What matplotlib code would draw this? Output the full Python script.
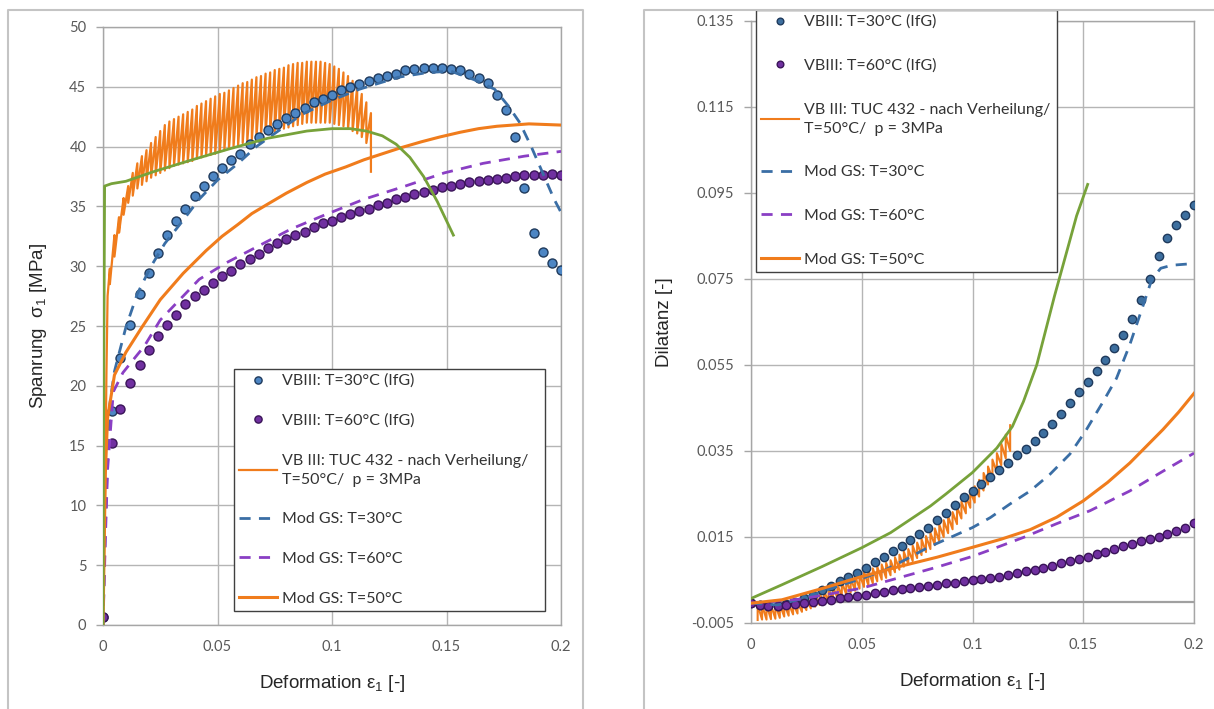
import matplotlib
matplotlib.use("Agg")
import matplotlib.pyplot as plt
from matplotlib.lines import Line2D

plt.rcParams['axes.unicode_minus'] = False
plt.rcParams['mathtext.fontset'] = 'custom'
plt.rcParams['mathtext.rm'] = 'Liberation Sans'
plt.rcParams['mathtext.default'] = 'rm'

# ---- measured points (IfG), shared strain positions ----
ifg_eps = [0.0, 0.004, 0.0075, 0.012, 0.016, 0.020, 0.024, 0.028,
           0.032, 0.036, 0.040, 0.044, 0.048, 0.052, 0.056, 0.060,
           0.064, 0.068, 0.072, 0.076, 0.080, 0.084, 0.088, 0.092, 0.096, 0.100,
           0.104, 0.108, 0.112, 0.116, 0.120, 0.124, 0.128, 0.132, 0.136, 0.140,
           0.144, 0.148, 0.152, 0.156, 0.160, 0.164, 0.168, 0.172, 0.176, 0.180,
           0.184, 0.188, 0.192, 0.196, 0.200]
ifg30_sig = [0.7, 17.9, 22.3, 25.1, 27.7, 29.4, 31.1, 32.6,
             33.8, 34.8, 35.9, 36.7, 37.5, 38.2, 38.9, 39.4,
             40.2, 40.8, 41.4, 41.9, 42.4, 42.8, 43.2, 43.7, 44.0, 44.3,
             44.7, 45.0, 45.2, 45.5, 45.7, 45.9, 46.1, 46.4, 46.5, 46.6,
             46.6, 46.6, 46.5, 46.4, 46.1, 45.7, 45.3, 44.3, 43.1, 40.8,
             36.5, 32.8, 31.2, 30.3, 29.7]
ifg60_sig = [0.7, 15.2, 18.1, 20.2, 21.7, 23.0, 24.2, 25.1,
             25.9, 26.8, 27.5, 28.0, 28.6, 29.2, 29.6, 30.2,
             30.6, 31.0, 31.5, 31.9, 32.3, 32.6, 32.9, 33.3, 33.6, 33.8,
             34.1, 34.4, 34.6, 34.8, 35.1, 35.3, 35.6, 35.8, 36.0, 36.2,
             36.4, 36.6, 36.7, 36.9, 37.0, 37.1, 37.2, 37.3, 37.4, 37.5,
             37.6, 37.6, 37.6, 37.7, 37.6]
ifg30_dil = [-0.0004, -0.0008, -0.0011, -0.0010, -0.0006, 0.0000, 0.0008, 0.0016,
             0.0027, 0.0037, 0.0047, 0.0057, 0.0066, 0.0079, 0.0091, 0.0104,
             0.0118, 0.0130, 0.0143, 0.0158, 0.0172, 0.0189, 0.0206, 0.0224, 0.0242, 0.0257,
             0.0273, 0.0290, 0.0305, 0.0322, 0.0340, 0.0355, 0.0373, 0.0392, 0.0413, 0.0436,
             0.0462, 0.0487, 0.0510, 0.0535, 0.0562, 0.0590, 0.0619, 0.0658, 0.0702, 0.0751,
             0.0803, 0.0846, 0.0875, 0.0898, 0.0921]
ifg60_dil = [-0.0004, -0.0009, -0.0011, -0.0011, -0.0009, -0.0006, -0.0004, -0.0001,
             0.0002, 0.0004, 0.0007, 0.0010, 0.0013, 0.0016, 0.0019, 0.0023,
             0.0026, 0.0029, 0.0031, 0.0033, 0.0036, 0.0039, 0.0042, 0.0044, 0.0047, 0.0049,
             0.0053, 0.0055, 0.0058, 0.0061, 0.0066, 0.0070, 0.0074, 0.0078, 0.0083, 0.0089,
             0.0094, 0.0099, 0.0104, 0.0110, 0.0115, 0.0122, 0.0128, 0.0134, 0.0140, 0.0145,
             0.0151, 0.0156, 0.0163, 0.0172, 0.0182]

# ---- TUC 432 cyclic test: strain of each load cycle, upper / lower turning values ----
tuc_start_eps = [0.0, 0.001, 0.0015, 0.002]
tuc_start_sig = [0.0, 12.0, 21.0, 27.5]
tooth_eps = [0.003, 0.005, 0.007, 0.009, 0.011, 0.013, 0.015, 0.017, 0.019, 0.021,
             0.023, 0.025, 0.027, 0.029, 0.031, 0.033, 0.035, 0.037, 0.039, 0.041,
             0.043, 0.045, 0.047, 0.049, 0.051, 0.053, 0.055, 0.057, 0.059, 0.061,
             0.063, 0.065, 0.067, 0.069, 0.071, 0.073, 0.075, 0.077, 0.079, 0.081,
             0.083, 0.085, 0.087, 0.089, 0.091, 0.093, 0.095, 0.097, 0.099, 0.101,
             0.103, 0.105, 0.107, 0.109, 0.111, 0.113, 0.115, 0.117]
tuc_sig_hi = [29.8, 32.6, 34.1, 35.7, 36.7, 37.8, 38.6, 39.2, 39.7, 40.3,
              40.8, 41.3, 41.8, 42.1, 42.3, 42.5, 42.7, 42.9, 43.1, 43.4,
              43.6, 43.8, 44.0, 44.2, 44.4, 44.5, 44.7, 44.9, 45.1, 45.3,
              45.4, 45.6, 45.8, 45.9, 46.1, 46.2, 46.4, 46.5, 46.6, 46.8,
              46.9, 47.0, 47.0, 47.1, 47.1, 47.1, 47.1, 47.0, 46.9, 46.7,
              46.5, 46.2, 45.9, 45.5, 45.0, 44.4, 43.7, 42.8]
tuc_sig_lo = [28.5, 30.8, 32.8, 34.3, 35.3, 35.9, 36.5, 36.8, 37.1, 37.4,
              37.6, 37.8, 38.0, 38.2, 38.4, 38.5, 38.6, 38.7, 38.8, 39.0,
              39.1, 39.2, 39.3, 39.4, 39.6, 39.7, 39.8, 40.0, 40.1, 40.3,
              40.4, 40.6, 40.8, 40.9, 41.1, 41.2, 41.3, 41.4, 41.5, 41.6,
              41.7, 41.8, 41.9, 42.0, 42.0, 42.0, 42.0, 42.0, 42.0, 41.9,
              41.8, 41.7, 41.5, 41.3, 41.1, 40.8, 40.3, 37.9]
tuc_dil_lo = [-0.0043, -0.0042, -0.0042, -0.0041, -0.0040, -0.0038, -0.0035, -0.0033, -0.0030, -0.0028,
              -0.0024, -0.0020, -0.0016, -0.0012, -0.0008, -0.0004, 0.0000, 0.0004, 0.0008, 0.0012,
              0.0016, 0.0021, 0.0025, 0.0030, 0.0034, 0.0038, 0.0042, 0.0047, 0.0051, 0.0055,
              0.0061, 0.0068, 0.0074, 0.0081, 0.0087, 0.0094, 0.0101, 0.0108, 0.0115, 0.0122,
              0.0131, 0.0140, 0.0150, 0.0159, 0.0168, 0.0180, 0.0193, 0.0205, 0.0218, 0.0230,
              0.0244, 0.0258, 0.0272, 0.0286, 0.0300, 0.0317, 0.0333, 0.0350]
tuc_dil_hi = [-0.0008, -0.0008, -0.0008, -0.0008, -0.0008, -0.0007, -0.0006, -0.0005, -0.0004, -0.0002,
              0.0002, 0.0006, 0.0010, 0.0014, 0.0018, 0.0024, 0.0029, 0.0035, 0.0040, 0.0046,
              0.0050, 0.0055, 0.0059, 0.0064, 0.0068, 0.0072, 0.0077, 0.0081, 0.0086, 0.0090,
              0.0096, 0.0103, 0.0109, 0.0116, 0.0122, 0.0130, 0.0137, 0.0145, 0.0152, 0.0160,
              0.0170, 0.0179, 0.0189, 0.0198, 0.0208, 0.0220, 0.0232, 0.0244, 0.0256, 0.0268,
              0.0283, 0.0299, 0.0314, 0.0330, 0.0345, 0.0367, 0.0388, 0.0410]

# ---- model curves (Mod GS), stress ----
mod30_eps = [0, 0.001, 0.002, 0.003, 0.005, 0.007, 0.010, 0.015, 0.021, 0.027, 0.034, 0.042,
             0.050, 0.059, 0.067, 0.075, 0.087, 0.099, 0.112, 0.129, 0.142, 0.152, 0.162,
             0.171, 0.177, 0.182, 0.187, 0.192, 0.197, 0.200]
mod30_sig = [0, 8.0, 14.0, 18.5, 21.2, 22.7, 24.9, 27.7, 30.0, 31.9, 33.6, 35.6,
             37.2, 38.6, 40.0, 41.1, 42.7, 43.8, 44.8, 45.8, 46.2, 46.3, 45.6,
             44.8, 43.4, 42.0, 40.0, 37.8, 35.6, 34.5]
mod60_eps = [0, 0.001, 0.002, 0.0045, 0.0087, 0.015, 0.018, 0.025, 0.034, 0.042, 0.054,
             0.069, 0.082, 0.097, 0.114, 0.132, 0.149, 0.166, 0.184, 0.200]
mod60_sig = [0, 7.0, 13.0, 19.5, 21.1, 22.6, 23.3, 25.5, 27.3, 28.9, 30.3,
             31.8, 33.1, 34.3, 35.6, 36.7, 37.8, 38.6, 39.2, 39.6]
mod50_eps = [0, 0.001, 0.002, 0.005, 0.010, 0.017, 0.025, 0.035, 0.045, 0.052, 0.059, 0.065,
             0.072, 0.080, 0.089, 0.097, 0.106, 0.114, 0.122, 0.130, 0.139, 0.147, 0.156,
             0.164, 0.172, 0.186, 0.200]
mod50_sig = [0, 12.6, 17.3, 20.9, 22.8, 24.9, 27.2, 29.4, 31.3, 32.5, 33.5, 34.4,
             35.2, 36.1, 37.0, 37.7, 38.3, 38.9, 39.4, 39.9, 40.4, 40.8, 41.2,
             41.5, 41.7, 41.9, 41.8]
green_eps = [0, 0.0003, 0.0007, 0.0037, 0.010, 0.022, 0.039, 0.055, 0.072, 0.089,
             0.100, 0.108, 0.115, 0.122, 0.128, 0.134, 0.140, 0.146, 0.153]
green_sig = [0, 20.0, 36.7, 36.9, 37.1, 37.9, 38.9, 39.8, 40.7, 41.3,
             41.5, 41.5, 41.3, 40.9, 40.2, 39.1, 37.5, 35.4, 32.6]

# ---- model curves, dilatancy ----
mod30d_eps = [0, 0.012, 0.024, 0.036, 0.048, 0.060, 0.070, 0.080, 0.090, 0.100, 0.108, 0.117,
              0.126, 0.135, 0.144, 0.151, 0.159, 0.165, 0.171, 0.177, 0.181, 0.185, 0.190, 0.200]
mod30_dil = [-0.0004, -0.0008, 0.0008, 0.0030, 0.0050, 0.0072, 0.0098, 0.0126, 0.0149, 0.0172,
             0.0195, 0.0227, 0.0257, 0.0296, 0.0343, 0.0396, 0.0465, 0.0519, 0.0597, 0.0688,
             0.0750, 0.0775, 0.0782, 0.0786]
mod60d_eps = [0, 0.023, 0.050, 0.066, 0.084, 0.100, 0.108, 0.123, 0.138, 0.153, 0.171, 0.186, 0.200]
mod60_dil = [-0.0004, 0.0006, 0.0031, 0.0054, 0.0080, 0.0105, 0.0120, 0.0149, 0.0181, 0.0211,
             0.0257, 0.0303, 0.0345]
mod50d_eps = [0, 0.014, 0.032, 0.050, 0.066, 0.084, 0.100, 0.113, 0.126, 0.138, 0.150, 0.161,
              0.171, 0.186, 0.193, 0.200]
mod50_dil = [-0.0004, 0.0004, 0.0030, 0.0058, 0.0080, 0.0103, 0.0126, 0.0145, 0.0167, 0.0196,
             0.0234, 0.0277, 0.0322, 0.0400, 0.0440, 0.0484]
greend_eps = [0, 0.014, 0.032, 0.050, 0.063, 0.081, 0.088, 0.100, 0.111, 0.118, 0.123, 0.129,
              0.137, 0.143, 0.147, 0.152]
green_dil = [0.0007, 0.0039, 0.0081, 0.0125, 0.0160, 0.0222, 0.0250, 0.0300, 0.0357, 0.0407,
             0.0465, 0.0550, 0.0710, 0.0822, 0.0897, 0.0970]

x_ticks = [0, 0.05, 0.1, 0.15, 0.2]
x_ticklabels = ['0', '0.05', '0.1', '0.15', '0.2']
sig_ticks = [0, 5, 10, 15, 20, 25, 30, 35, 40, 45, 50]
dil_ticks = [-0.005, 0.015, 0.035, 0.055, 0.075, 0.095, 0.115, 0.135]
dil_ticklabels = ['-0.005', '0.015', '0.035', '0.055', '0.075', '0.095', '0.115', '0.135']

labels = ['VBIII: T=30°C (IfG)', 'VBIII: T=60°C (IfG)',
          'VB III: TUC 432 - nach Verheilung/\nT=50°C/  p = 3MPa',
          'Mod GS: T=30°C', 'Mod GS: T=60°C', 'Mod GS: T=50°C']

C_BLUE = '#4d86c4'
C_BLUE_E = '#1f3a5c'
C_PURP = '#7030a0'
C_PURP_E = '#3a1458'
C_ORANGE = '#f07c1c'
C_BDASH = '#3a6ea5'
C_PDASH = '#8a3fc4'
C_GREEN = '#77a23a'
GRID = '#b5b5b5'


def cycle_path(xs, first, second):
    px, py = [], []
    for x, a, b in zip(xs, first, second):
        px += [x, x]
        py += [a, b]
    return px, py


W, H = 1214, 709
fig = plt.figure(figsize=(W / 100, H / 100), dpi=100)
ax1 = fig.add_axes([103 / W, 1 - 625 / H, 458 / W, 598 / H])
ax2 = fig.add_axes([751 / W, 1 - 623 / H, 443 / W, 602 / H])

# chart-area frames
fig.add_artist(Line2D([8 / W, 8 / W, 583 / W, 583 / W], [0, 1 - 10 / H, 1 - 10 / H, 0],
                      transform=fig.transFigure, color='#c4c4c4', lw=1.5))
fig.add_artist(Line2D([644 / W, 644 / W, 1], [0, 1 - 10 / H, 1 - 10 / H],
                      transform=fig.transFigure, color='#c4c4c4', lw=1.5))

# ----- left: stress -----
ax1.plot(ifg_eps, ifg30_sig, 'o', ms=6.5, mfc=C_BLUE, mec=C_BLUE_E, mew=1.0, zorder=3, label=labels[0])
ax1.plot(ifg_eps, ifg60_sig, 'o', ms=6.5, mfc=C_PURP, mec=C_PURP_E, mew=1.0, zorder=3, label=labels[1])
sx, sy = cycle_path(tooth_eps, tuc_sig_hi, tuc_sig_lo)
ax1.plot(tuc_start_eps + sx, tuc_start_sig + sy, color=C_ORANGE, lw=1.6, zorder=2.5, label=labels[2])
ax1.plot(mod30_eps, mod30_sig, color=C_BDASH, lw=2, dashes=(4, 3), zorder=4, label=labels[3])
ax1.plot(mod60_eps, mod60_sig, color=C_PDASH, lw=2, dashes=(4, 3), zorder=4, label=labels[4])
ax1.plot(mod50_eps, mod50_sig, color=C_ORANGE, lw=2.2, zorder=4, label=labels[5])
ax1.plot(green_eps, green_sig, color=C_GREEN, lw=2, zorder=5)

ax1.set_xlim(0, 0.2)
ax1.set_ylim(0, 50)
ax1.set_yticks(sig_ticks)

# ----- right: dilatancy -----
ax2.axhline(0, color='#a0a0a0', lw=1.6, zorder=1)
ax2.plot(ifg_eps, ifg30_dil, 'o', ms=6, mfc='#3d6f9f', mec=C_BLUE_E, mew=1.0, zorder=3, label=labels[0])
ax2.plot(ifg_eps, ifg60_dil, 'o', ms=6, mfc=C_PURP, mec=C_PURP_E, mew=1.0, zorder=3, label=labels[1])
dx, dy = cycle_path(tooth_eps, tuc_dil_lo, tuc_dil_hi)
ax2.plot(dx, dy, color=C_ORANGE, lw=1.5, zorder=2.5, label=labels[2])
ax2.plot(mod30d_eps, mod30_dil, color=C_BDASH, lw=2, dashes=(4, 3), zorder=4, label=labels[3])
ax2.plot(mod60d_eps, mod60_dil, color=C_PDASH, lw=2, dashes=(4, 3), zorder=4, label=labels[4])
ax2.plot(mod50d_eps, mod50_dil, color=C_ORANGE, lw=2.2, zorder=4, label=labels[5])
ax2.plot(greend_eps, green_dil, color=C_GREEN, lw=2, zorder=5)

ax2.set_xlim(0, 0.2)
ax2.set_ylim(-0.005, 0.135)
ax2.set_yticks(dil_ticks)
ax2.set_yticklabels(dil_ticklabels)

for ax in (ax1, ax2):
    ax.set_xticks(x_ticks)
    ax.set_xticklabels(x_ticklabels)
    ax.grid(True, color=GRID, lw=1)
    ax.set_axisbelow(True)
    for sp in ax.spines.values():
        sp.set_color('#a6a6a6')
        sp.set_linewidth(1)
    ax.tick_params(axis='y', length=5, width=1, color='#a6a6a6', pad=7,
                   labelsize=10.5, labelcolor='#595959', labelfontfamily='Lato')
    ax.tick_params(axis='x', length=0, pad=11,
                   labelsize=10.5, labelcolor='#595959', labelfontfamily='Lato')
    ax.set_xlabel('Deformation ε$_1$ [-]', fontsize=13.5, family='Liberation Sans', color='#262626')
    ax.xaxis.set_label_coords(0.5, -0.08)

ax1.set_ylabel('Spanrung  σ$_1$ [MPa]', fontsize=13.5, family='Liberation Sans', color='#262626')
ax2.set_ylabel('Dilatanz [-]', fontsize=13.5, family='Liberation Sans', color='#262626')
ax1.yaxis.set_label_coords(-0.118, 0.5)
ax2.yaxis.set_label_coords(-0.176, 0.5)

leg_kw = dict(loc='upper left', mode='expand', borderaxespad=0, bbox_transform=fig.transFigure,
              prop={'family': 'Lato', 'size': 11.5}, frameon=True, fancybox=False,
              edgecolor='#404040', framealpha=1, handlelength=2.4, handletextpad=0.3,
              borderpad=0.3, markerscale=0.8)
leg1 = ax1.legend(bbox_to_anchor=(234 / W, 1 - 369 / H, 311 / W, 0), labelspacing=1.6, **leg_kw)
leg2 = ax2.legend(bbox_to_anchor=(756 / W, 1 - 10 / H, 301 / W, 0), labelspacing=1.85, **leg_kw)
for leg in (leg1, leg2):
    leg.get_frame().set_linewidth(1.0)
    leg.set_zorder(10)
    for t in leg.get_texts():
        t.set_color('#333333')
        t.set_linespacing(1.45)

fig.savefig('out.png', dpi=100)
